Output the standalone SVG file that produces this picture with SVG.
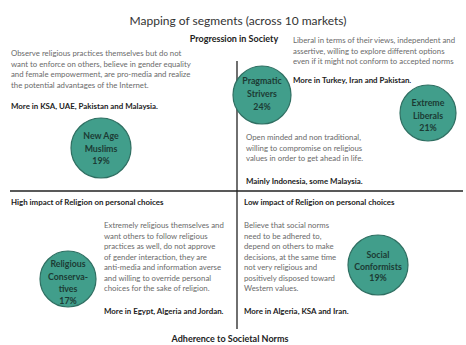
<svg xmlns="http://www.w3.org/2000/svg" width="466" height="345" viewBox="0 0 466 345">
<style>
.title{font-family:Lato,"Liberation Sans",sans-serif;font-size:12px;fill:#333}
.axis{font-family:Lato,"Liberation Sans",sans-serif;font-size:9px;font-weight:bold;fill:#222}
.body{font-family:Lato,"Liberation Sans",sans-serif;font-size:7.8px;fill:#6a6a6a}
.bold{font-family:Lato,"Liberation Sans",sans-serif;font-size:7.9px;font-weight:bold;fill:#222}
.clabel{font-family:Lato,"Liberation Sans",sans-serif;font-size:8.8px;font-weight:bold;fill:#1c3b34;text-anchor:middle}
.circ{fill:#419e8b;stroke:#2f6f62;stroke-width:1.2}
.line{stroke:#222;stroke-width:1.3;fill:none}
</style>
<rect width="466" height="345" fill="#fff"/>
<text class="title" x="238" y="25" text-anchor="middle">Mapping of segments (across 10 markets)</text>
<g id="connectors">
<line class="line" x1="237" y1="61" x2="237" y2="329"/>
<line class="line" x1="10" y1="191" x2="463" y2="191"/>
</g>
<g id="axis-labels">
<text class="axis" x="234" y="42" text-anchor="middle">Progression in Society</text>
<text class="axis" x="230" y="342" text-anchor="middle">Adherence to Societal Norms</text>
<text class="bold" x="11" y="205">High impact of Religion on personal choices</text>
<text class="bold" x="244" y="205">Low impact of Religion on personal choices</text>
</g>
<g id="new-age-muslims-text">
<text class="body" x="11" y="56">Observe religious practices themselves but do not</text>
<text class="body" x="11" y="66.5">want to enforce on others, believe in gender equality</text>
<text class="body" x="11" y="77">and female empowerment, are pro-media and realize</text>
<text class="body" x="11" y="87.5">the potential advantages of the Internet.</text>
<text class="bold" x="11" y="109">More in KSA, UAE, Pakistan and Malaysia.</text>
</g>
<g id="extreme-liberals-text">
<text class="body" x="293" y="43">Liberal in terms of their views, independent and</text>
<text class="body" x="293" y="53.5">assertive, willing to explore different options</text>
<text class="body" x="293" y="64">even if it might not conform to accepted norms</text>
<text class="bold" x="293" y="83">More in Turkey, Iran and Pakistan.</text>
</g>
<g id="pragmatic-strivers-text">
<text class="body" x="246" y="140">Open minded and non traditional,</text>
<text class="body" x="246" y="150.5">willing to compromise on religious</text>
<text class="body" x="246" y="161">values in order to get ahead in life.</text>
<text class="bold" x="246" y="184">Mainly Indonesia, some Malaysia.</text>
</g>
<g id="religious-conservatives-text">
<text class="body" x="104" y="228">Extremely religious themselves and</text>
<text class="body" x="104" y="238.5">want others to follow religious</text>
<text class="body" x="104" y="249">practices as well, do not approve</text>
<text class="body" x="104" y="259.5">of gender interaction, they are</text>
<text class="body" x="104" y="270">anti-media and information averse</text>
<text class="body" x="104" y="280.5">and willing to override personal</text>
<text class="body" x="104" y="291">choices for the sake of religion.</text>
<text class="bold" x="104" y="314">More in Egypt, Algeria and Jordan.</text>
</g>
<g id="social-conformists-text">
<text class="body" x="244" y="228">Believe that social norms</text>
<text class="body" x="244" y="238.5">need to be adhered to,</text>
<text class="body" x="244" y="249">depend on others to make</text>
<text class="body" x="244" y="259.5">decisions, at the same time</text>
<text class="body" x="244" y="270">not very religious and</text>
<text class="body" x="244" y="280.5">positively disposed toward</text>
<text class="body" x="244" y="291">Western values.</text>
<text class="bold" x="244" y="314">More in Algeria, KSA and Iran.</text>
</g>
<g id="pragmatic-strivers">
<circle class="circ" cx="262" cy="95" r="29"/>
<text class="clabel" x="262" y="84">Pragmatic</text>
<text class="clabel" x="262" y="97">Strivers</text>
<text class="clabel" x="262" y="110">24%</text>
</g>
<g id="extreme-liberals">
<circle class="circ" cx="428" cy="113" r="28"/>
<text class="clabel" x="428" y="106">Extreme</text>
<text class="clabel" x="428" y="118.5">Liberals</text>
<text class="clabel" x="428" y="131">21%</text>
</g>
<g id="new-age-muslims">
<circle class="circ" cx="101" cy="148" r="30"/>
<text class="clabel" x="101" y="139">New Age</text>
<text class="clabel" x="101" y="151.5">Muslims</text>
<text class="clabel" x="101" y="164">19%</text>
</g>
<g id="religious-conservatives">
<circle class="circ" cx="68" cy="279" r="28"/>
<text class="clabel" x="68" y="267">Religious</text>
<text class="clabel" x="68" y="279.5">Conserva-</text>
<text class="clabel" x="68" y="292">tives</text>
<text class="clabel" x="68" y="304">17%</text>
</g>
<g id="social-conformists">
<circle class="circ" cx="378" cy="265" r="30"/>
<text class="clabel" x="378" y="258">Social</text>
<text class="clabel" x="378" y="269.5">Conformists</text>
<text class="clabel" x="378" y="281">19%</text>
</g>
</svg>
